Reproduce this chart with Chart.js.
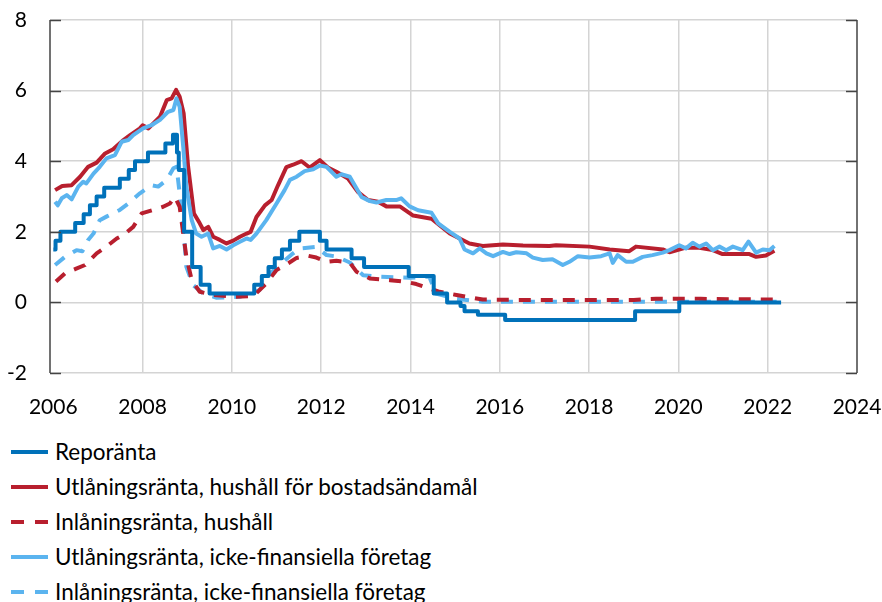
<!DOCTYPE html>
<html lang="sv">
<head>
<meta charset="utf-8">
<script src="https://cdn.jsdelivr.net/npm/chart.js@4.4.1/dist/chart.umd.min.js"></script>
<style>
  body { margin: 0; background: #fff; font-family: Lato, "Open Sans", sans-serif; }
  #wrap { position: relative; width: 882px; height: 602px; }
  #legend { position: absolute; left: 0; top: 434px; }
  .item { display: flex; align-items: center; height: 35px; font-size: 22.5px; color: #000; white-space: nowrap; }
  .item svg { margin-left: 11px; margin-right: 7px; }
</style>
</head>
<body>
<div id="wrap">
  <canvas id="chart" width="882" height="430"></canvas>
  <div id="legend"></div>
</div>
<script>
const yearTicks = [2006, 2008, 2010, 2012, 2014, 2016, 2018, 2020, 2022, 2024];
const valueTicks = [-2, 0, 2, 4, 6, 8];

const seriesNames = [
  'Reporänta',
  'Utlåningsränta, hushåll för bostadsändamål',
  'Inlåningsränta, hushåll',
  'Utlåningsränta, icke-finansiella företag',
  'Inlåningsränta, icke-finansiella företag'
];

// repo rate: change dates (decimal year) and new level
const repoDates = [2006.0, 2006.05, 2006.16, 2006.49, 2006.68, 2006.82, 2006.97, 2007.14, 2007.49, 2007.69,
  2007.83, 2008.12, 2008.51, 2008.68, 2008.77, 2008.81, 2008.93, 2009.11, 2009.30, 2009.50,
  2010.50, 2010.67, 2010.82, 2010.96, 2011.12, 2011.30, 2011.51, 2011.97, 2012.12, 2012.68,
  2012.96, 2013.96, 2014.52, 2014.82, 2015.12, 2015.21, 2015.51, 2016.12, 2019.03, 2020.02, 2022.3];
const repoRate = [1.5, 1.75, 2.0, 2.25, 2.5, 2.75, 3.0, 3.25, 3.5, 3.75,
  4.0, 4.25, 4.5, 4.75, 4.25, 3.75, 2.0, 1.0, 0.5, 0.25,
  0.5, 0.75, 1.0, 1.25, 1.5, 1.75, 2.0, 1.75, 1.5, 1.25,
  1.0, 0.75, 0.25, 0.0, -0.1, -0.25, -0.35, -0.5, -0.25, 0.0, 0.0];

const mortgageDates = [2006.04, 2006.2, 2006.41, 2006.6, 2006.78, 2006.97, 2007.16, 2007.34, 2007.57, 2007.72,
  2007.94, 2008.0, 2008.13, 2008.39, 2008.54, 2008.65, 2008.75, 2008.83, 2008.92, 2009.02,
  2009.15, 2009.28, 2009.36, 2009.47, 2009.58, 2009.73, 2009.88, 2010.03, 2010.18, 2010.33,
  2010.42, 2010.55, 2010.74, 2010.89, 2011.03, 2011.22, 2011.37, 2011.56, 2011.74, 2011.97,
  2012.15, 2012.34, 2012.6, 2012.82, 2013.05, 2013.27, 2013.46, 2013.76, 2014.06, 2014.47,
  2014.65, 2014.88, 2015.1, 2015.32, 2015.62, 2016.07, 2016.52, 2017.11, 2017.26, 2018.01,
  2018.46, 2018.9, 2019.05, 2019.65, 2019.8, 2020.17, 2020.47, 2020.77, 2020.99, 2021.29,
  2021.59, 2021.74, 2021.96, 2022.15];
const mortgageRate = [3.18, 3.3, 3.32, 3.56, 3.84, 3.96, 4.22, 4.34, 4.6, 4.74,
  4.93, 5.02, 4.93, 5.26, 5.73, 5.78, 6.02, 5.83, 5.35, 3.84,
  2.52, 2.24, 2.05, 2.14, 1.86, 1.77, 1.67, 1.75, 1.86, 1.95,
  2.0, 2.42, 2.75, 2.9, 3.31, 3.83, 3.9, 4.0, 3.82, 4.03,
  3.82, 3.7, 3.51, 3.13, 2.9, 2.85, 2.72, 2.72, 2.46, 2.37,
  2.19, 1.95, 1.81, 1.67, 1.6, 1.64, 1.61, 1.6, 1.62, 1.58,
  1.5, 1.45, 1.58, 1.5, 1.42, 1.55, 1.55, 1.48, 1.37, 1.37,
  1.37, 1.29, 1.33, 1.46];

const hhDepositDates = [2006.06, 2006.26, 2006.5, 2006.71, 2006.97, 2007.19, 2007.42, 2007.57, 2007.79, 2007.98,
  2008.24, 2008.46, 2008.61, 2008.72, 2008.83, 2008.91, 2008.98, 2009.1, 2009.28, 2009.58,
  2010.03, 2010.48, 2010.78, 2011.0, 2011.15, 2011.45, 2011.71, 2011.89, 2012.12, 2012.34,
  2012.64, 2012.79, 2013.09, 2013.54, 2013.91, 2014.13, 2014.65, 2015.03, 2015.62, 2016.37,
  2019.0, 2019.5, 2020.5, 2022.2];
const hhDepositRate = [0.59, 0.82, 0.95, 1.06, 1.39, 1.58, 1.81, 1.91, 2.14, 2.52,
  2.62, 2.71, 2.8, 2.99, 2.71, 1.95, 1.29, 0.63, 0.3, 0.21,
  0.16, 0.18, 0.55, 0.92, 1.02, 1.26, 1.32, 1.27, 1.15, 1.18,
  1.13, 0.87, 0.68, 0.63, 0.58, 0.52, 0.3, 0.21, 0.08, 0.07,
  0.07, 0.1, 0.1, 0.08];

const nfcLendingDates = [2006.04, 2006.1, 2006.19, 2006.3, 2006.41, 2006.56, 2006.67, 2006.74, 2006.9, 2007.04,
  2007.19, 2007.38, 2007.53, 2007.68, 2007.79, 2008.01, 2008.2, 2008.39, 2008.57, 2008.69,
  2008.76, 2008.83, 2008.91, 2008.98, 2009.1, 2009.2, 2009.32, 2009.47, 2009.58, 2009.73,
  2009.88, 2010.03, 2010.18, 2010.33, 2010.42, 2010.55, 2010.77, 2011.0, 2011.18, 2011.3,
  2011.45, 2011.63, 2011.82, 2011.97, 2012.12, 2012.34, 2012.45, 2012.64, 2012.9, 2013.09,
  2013.24, 2013.46, 2013.68, 2013.79, 2013.98, 2014.17, 2014.47, 2014.62, 2014.88, 2015.1,
  2015.21, 2015.4, 2015.55, 2015.7, 2015.85, 2016.07, 2016.22, 2016.37, 2016.6, 2016.74,
  2016.96, 2017.18, 2017.41, 2017.56, 2017.75, 2018.01, 2018.27, 2018.46, 2018.53, 2018.64,
  2018.83, 2018.98, 2019.2, 2019.42, 2019.65, 2019.8, 2020.02, 2020.17, 2020.32, 2020.47,
  2020.62, 2020.77, 2020.92, 2021.07, 2021.22, 2021.44, 2021.57, 2021.74, 2021.89, 2022.04,
  2022.15];
const nfcLendingRate = [2.85, 2.75, 2.95, 3.04, 2.92, 3.28, 3.42, 3.37, 3.65, 3.84,
  4.08, 4.17, 4.55, 4.6, 4.74, 4.93, 5.02, 5.17, 5.4, 5.45,
  5.78, 5.54, 4.41, 3.28, 2.33, 1.95, 1.86, 1.95, 1.53, 1.6,
  1.5, 1.62, 1.72, 1.81, 1.77, 1.95, 2.33, 2.8, 3.18, 3.47,
  3.56, 3.72, 3.77, 3.88, 3.84, 3.56, 3.63, 3.56, 2.99, 2.87,
  2.83, 2.9, 2.9, 2.95, 2.72, 2.61, 2.54, 2.24, 2.0, 1.81,
  1.5, 1.39, 1.53, 1.39, 1.31, 1.43, 1.37, 1.42, 1.39, 1.27,
  1.2, 1.22, 1.06, 1.15, 1.31, 1.27, 1.31, 1.39, 1.12, 1.34,
  1.15, 1.15, 1.29, 1.34, 1.41, 1.48, 1.62, 1.53, 1.69, 1.58,
  1.67, 1.48, 1.58, 1.48, 1.58, 1.48, 1.72, 1.41, 1.5, 1.48,
  1.6];

const nfcDepositDates = [2006.04, 2006.26, 2006.52, 2006.65, 2006.78, 2006.9, 2007.04, 2007.19, 2007.49, 2007.68,
  2007.94, 2008.2, 2008.35, 2008.54, 2008.69, 2008.76, 2008.83, 2008.91, 2008.98, 2009.13,
  2009.36, 2009.66, 2010.18, 2010.62, 2010.85, 2011.15, 2011.37, 2011.52, 2011.89, 2012.12,
  2012.34, 2012.64, 2012.94, 2013.24, 2013.98, 2014.42, 2014.57, 2015.03, 2015.62, 2022.2];
const nfcDepositRate = [1.06, 1.29, 1.48, 1.45, 1.77, 1.95, 2.33, 2.43, 2.62, 2.8,
  3.09, 3.32, 3.28, 3.47, 3.8, 3.84, 3.09, 2.14, 1.01, 0.49,
  0.25, 0.13, 0.16, 0.35, 0.82, 1.15, 1.39, 1.53, 1.57, 1.34,
  1.3, 1.13, 0.77, 0.73, 0.7, 0.73, 0.25, 0.1, 0.02, 0.02];

const colorRepo = '#0071b9';
const colorRed = '#b81f2e';
const colorLight = '#5bb4ef';
const axisColor = '#444';
const gridColor = '#d4d4d4';
const clear = 'rgba(0,0,0,0)';

const toPoints = (xs, ys) => xs.map((x, i) => ({ x: x, y: ys[i] }));

const styles = [
  { color: colorRepo, dash: [] },
  { color: colorRed, dash: [] },
  { color: colorRed, dash: [12, 10] },
  { color: colorLight, dash: [] },
  { color: colorLight, dash: [12, 10] },
];

// inward tick marks and left/right axis lines
const frameAxes = {
  id: 'frameAxes',
  afterDatasetsDraw(chart) {
    const { ctx, chartArea } = chart;
    const y = chart.scales.y;
    ctx.save();
    ctx.strokeStyle = axisColor;
    ctx.lineWidth = 1.5;
    ctx.beginPath();
    ctx.moveTo(chartArea.left, chartArea.top);
    ctx.lineTo(chartArea.left, chartArea.bottom);
    ctx.moveTo(chartArea.right, chartArea.top);
    ctx.lineTo(chartArea.right, chartArea.bottom);
    valueTicks.forEach(v => {
      const py = Math.round(y.getPixelForValue(v)) + 0.5;
      ctx.moveTo(chartArea.left, py);
      ctx.lineTo(chartArea.left + 11, py);
      ctx.moveTo(chartArea.right, py);
      ctx.lineTo(chartArea.right - 11, py);
    });
    ctx.stroke();
    ctx.restore();
  }
};

const ctx = document.getElementById('chart').getContext('2d');
const chart = new Chart(ctx, {
  type: 'line',
  data: {
    datasets: [
      { label: seriesNames[0], data: toPoints(repoDates, repoRate), stepped: true, order: 0 },
      { label: seriesNames[1], data: toPoints(mortgageDates, mortgageRate), order: 2 },
      { label: seriesNames[2], data: toPoints(hhDepositDates, hhDepositRate), order: 3 },
      { label: seriesNames[3], data: toPoints(nfcLendingDates, nfcLendingRate), order: 1 },
      { label: seriesNames[4], data: toPoints(nfcDepositDates, nfcDepositRate), order: 4 },
    ].map((ds, i) => Object.assign(ds, {
      borderColor: styles[i].color,
      borderDash: styles[i].dash,
      borderWidth: 4,
      pointRadius: 0,
      tension: 0,
      fill: false,
      borderJoinStyle: 'round',
    })),
  },
  options: {
    responsive: false,
    animation: false,
    layout: { padding: { top: 20, right: 25, left: 0, bottom: 0 } },
    plugins: {
      legend: { display: false },
      tooltip: { enabled: false },
    },
    scales: {
      x: {
        type: 'linear',
        min: 2005.926,
        max: 2024,
        afterBuildTicks: (scale) => { scale.ticks = yearTicks.map(v => ({ value: v })); },
        afterFit: (scale) => { scale.height = 57; },
        grid: {
          color: (c) => (c.tick && (c.tick.value === 2006 || c.tick.value === 2024)) ? clear : gridColor,
          lineWidth: 1.5,
          drawTicks: true,
          tickLength: 22,
          tickColor: clear,
        },
        border: { display: false },
        ticks: {
          color: '#000',
          padding: 0,
          maxRotation: 0,
          font: { family: 'Lato', size: 21 },
          callback: (v) => String(v),
        },
      },
      y: {
        min: -2,
        max: 8,
        afterBuildTicks: (scale) => { scale.ticks = valueTicks.map(v => ({ value: v })); },
        afterFit: (scale) => { scale.width = 50; },
        grid: { color: gridColor, lineWidth: 1.5, drawTicks: true, tickLength: 23, tickColor: clear },
        border: { display: false },
        ticks: {
          color: '#000',
          padding: 0,
          font: { family: 'Lato', size: 21 },
          callback: (v) => String(v),
        },
      },
    },
  },
  plugins: [frameAxes],
});

// legend, one entry per row
const legend = document.getElementById('legend');
seriesNames.forEach((name, i) => {
  const row = document.createElement('div');
  row.className = 'item';
  const dash = styles[i].dash.length ? 'stroke-dasharray="13 11"' : '';
  row.innerHTML = '<svg width="37" height="6"><line x1="0" y1="3" x2="37" y2="3" stroke="' +
    styles[i].color + '" stroke-width="4" ' + dash + '/></svg><span>' + name + '</span>';
  legend.appendChild(row);
});
</script>
</body>
</html>
